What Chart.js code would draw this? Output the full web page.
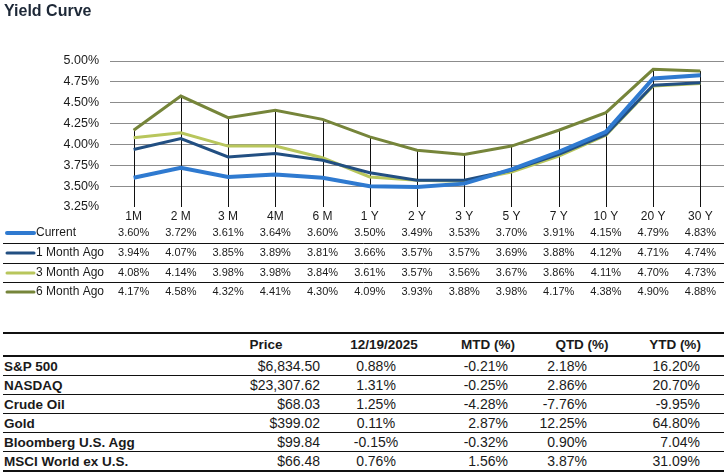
<!DOCTYPE html>
<html>
<head>
<meta charset="utf-8">
<script src="https://cdn.jsdelivr.net/npm/chart.js@4.4.1/dist/chart.umd.min.js"></script>
<style>
  body { margin: 0; background: #fff; font-family: "Liberation Sans", Arial, sans-serif; color: #1a1a1a; }
  #wrap { position: relative; width: 724px; height: 474px; overflow: hidden; }
  #title { position: absolute; left: 4px; top: 2px; font-size: 16px; font-weight: bold; color: #1d2837; }
  #chartBox { position: absolute; left: 0; top: 0; width: 724px; height: 305px; }
  #mkt { position: absolute; left: 3px; top: 332px; width: 721px; border-collapse: collapse; table-layout: fixed; }
  #mkt th, #mkt td { padding: 0; white-space: nowrap; }
  #mkt thead tr { border-top: 2px solid #111; border-bottom: 2px solid #111; }
  #mkt thead th { height: 21px; font-size: 13.5px; font-weight: bold; text-align: center; }
  #mkt tbody tr { border-bottom: 1px solid #111; }
  #mkt tbody tr:last-child { border-bottom: 2px solid #111; }
  #mkt tbody td { height: 18px; font-size: 14px; }
  #mkt tbody td.name { font-weight: bold; font-size: 13.5px; padding-left: 1px; text-align: left; }
</style>
</head>
<body>
<div id="wrap">
  <div id="chartBox"><canvas id="yc"></canvas></div>
  <div id="title">Yield Curve</div>
  <table id="mkt">
    <colgroup>
      <col style="width:207px"><col style="width:112px"><col style="width:124px">
      <col style="width:84px"><col style="width:104px"><col style="width:90px">
    </colgroup>
    <thead id="mktHead"></thead>
    <tbody id="mktBody"></tbody>
  </table>
</div>
<script>
// yield curve data
const maturities = ['1M', '2 M', '3 M', '4M', '6 M', '1 Y', '2 Y', '3 Y', '5 Y', '7 Y', '10 Y', '20 Y', '30 Y'];
const current   = [3.60, 3.72, 3.61, 3.64, 3.60, 3.50, 3.49, 3.53, 3.70, 3.91, 4.15, 4.79, 4.83];
const monthAgo1 = [3.94, 4.07, 3.85, 3.89, 3.81, 3.66, 3.57, 3.57, 3.69, 3.88, 4.12, 4.71, 4.74];
const monthAgo3 = [4.08, 4.14, 3.98, 3.98, 3.84, 3.61, 3.57, 3.56, 3.67, 3.86, 4.11, 4.70, 4.73];
const monthAgo6 = [4.17, 4.58, 4.32, 4.41, 4.30, 4.09, 3.93, 3.88, 3.98, 4.17, 4.38, 4.90, 4.88];
const yMin = 3.25, yMax = 5.00, yStep = 0.25;

// market table
const mktCols = ['', 'Price', '12/19/2025', 'MTD (%)', 'QTD (%)', 'YTD (%)'];
const assets = ['S&P 500', 'NASDAQ', 'Crude Oil', 'Gold', 'Bloomberg U.S. Agg', 'MSCI World ex U.S.'];
const prices = ['$6,834.50', '$23,307.62', '$68.03', '$399.02', '$99.84', '$66.48'];
const dayChg = ['0.88%', '1.31%', '1.25%', '0.11%', '-0.15%', '0.76%'];
const mtd = ['-0.21%', '-0.25%', '-4.28%', '2.87%', '-0.32%', '1.56%'];
const qtd = ['2.18%', '2.86%', '-7.76%', '12.25%', '0.90%', '3.87%'];
const ytd = ['16.20%', '20.70%', '-9.95%', '64.80%', '7.04%', '31.09%'];

const FONT = '"Liberation Sans", Arial, sans-serif';

// drop lines from the highest point of each maturity to the axis
const dropLines = {
    id: 'dropLines',
    beforeDatasetsDraw(chart) {
        const ctx = chart.ctx, xs = chart.scales.x, ys = chart.scales.y;
        ctx.save();
        ctx.strokeStyle = '#111';
        ctx.lineWidth = 1;
        maturities.forEach((m, j) => {
            const top = Math.max(...chart.data.datasets.map(d => d.data[j]));
            const x = Math.round(xs.getPixelForValue(j)) + 0.5;
            ctx.beginPath();
            ctx.moveTo(x, ys.getPixelForValue(top));
            ctx.lineTo(x, chart.chartArea.bottom);
            ctx.stroke();
        });
        ctx.restore();
    }
};

// data table under the chart, aligned to the category scale
const dataTable = {
    id: 'dataTable',
    afterDraw(chart) {
        const ctx = chart.ctx, xs = chart.scales.x;
        const rowY = [233, 253, 273, 292];
        ctx.save();
        ctx.strokeStyle = '#111';
        ctx.lineWidth = 1;
        [243, 263, 282].forEach(y => {
            ctx.beginPath();
            ctx.moveTo(3, y + 0.5);
            ctx.lineTo(724, y + 0.5);
            ctx.stroke();
        });
        chart.data.datasets.forEach((ds, i) => {
            const y = rowY[i];
            ctx.strokeStyle = ds.borderColor;
            ctx.lineWidth = i === 0 ? 4 : 3;
            ctx.lineCap = 'round';
            ctx.beginPath();
            ctx.moveTo(7, y);
            ctx.lineTo(34, y);
            ctx.stroke();
            ctx.fillStyle = '#1a1a1a';
            ctx.textBaseline = 'middle';
            ctx.textAlign = 'left';
            ctx.font = '12px ' + FONT;
            ctx.fillText(ds.label, 36, y);
            ctx.textAlign = 'center';
            ctx.font = '11px ' + FONT;
            ds.data.forEach((v, j) => ctx.fillText(v.toFixed(2) + '%', xs.getPixelForValue(j), y));
        });
        ctx.restore();
    }
};

new Chart(document.getElementById('yc'), {
    type: 'line',
    data: {
        labels: maturities,
        datasets: [
            { label: 'Current', data: current, borderColor: '#2f7ad0', borderWidth: 4 },
            { label: '1 Month Ago', data: monthAgo1, borderColor: '#224f82', borderWidth: 3 },
            { label: '3 Month Ago', data: monthAgo3, borderColor: '#b8c65c', borderWidth: 3 },
            { label: '6 Month Ago', data: monthAgo6, borderColor: '#76853a', borderWidth: 3 }
        ]
    },
    options: {
        responsive: true,
        maintainAspectRatio: false,
        animation: false,
        elements: { point: { radius: 0 }, line: { tension: 0, borderJoinStyle: 'miter' } },
        layout: { padding: { top: 61, bottom: 78, left: 0, right: 0 } },
        plugins: { legend: { display: false }, tooltip: { enabled: false } },
        scales: {
            x: {
                offset: true,
                grid: { display: false, drawTicks: false },
                border: { display: false },
                ticks: { color: '#1a1a1a', font: { family: FONT, size: 12 }, padding: 2, maxRotation: 0, autoSkip: false },
                afterFit(s) { s.height = 20; }
            },
            y: {
                min: yMin, max: yMax,
                grid: { color: c => (c.tick && c.tick.value === yMin ? 'rgba(0,0,0,0)' : '#8c8c8c'), drawTicks: false, lineWidth: 1 },
                border: { display: false },
                ticks: {
                    stepSize: yStep, padding: 11, color: '#1a1a1a',
                    font: { family: FONT, size: 12.5 },
                    callback: v => v.toFixed(2) + '%'
                },
                afterFit(s) { s.width = 110; }
            }
        }
    },
    plugins: [dropLines, dataTable]
});

// market table
document.getElementById('mktHead').innerHTML = '<tr>' + mktCols.map((h, i) => {
    const pad = i === 5 ? 'padding-right:8px;' : '';
    return `<th style="${pad}">${h}</th>`;
}).join('') + '</tr>';

document.getElementById('mktBody').innerHTML = assets.map((a, i) => `
    <tr>
      <td class="name">${a}</td>
      <td style="text-align:right;padding-right:2px">${prices[i]}</td>
      <td style="text-align:center;padding-right:16px">${dayChg[i]}</td>
      <td style="text-align:right;padding-right:22px">${mtd[i]}</td>
      <td style="text-align:right;padding-right:47px">${qtd[i]}</td>
      <td style="text-align:right;padding-right:24px">${ytd[i]}</td>
    </tr>`).join('');
</script>
</body>
</html>
